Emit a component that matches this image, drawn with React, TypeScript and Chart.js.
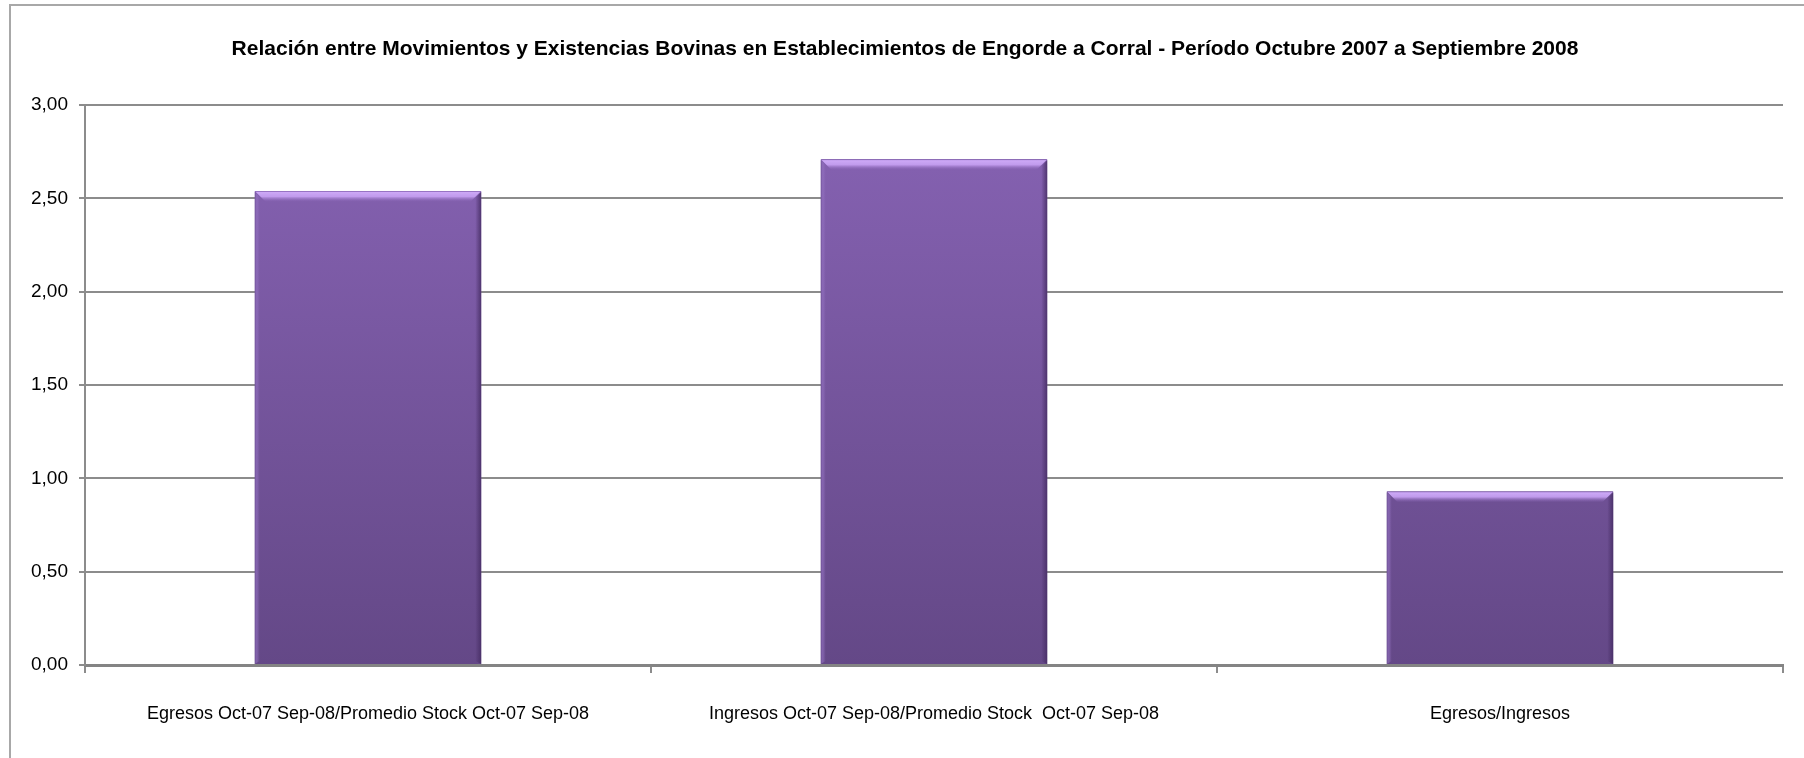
import React, { useEffect, useRef } from "react";
import { Chart, registerables } from "chart.js";

Chart.register(...registerables);

const TITLE =
  "Relación entre Movimientos y Existencias Bovinas en Establecimientos de Engorde a Corral - Período Octubre 2007 a Septiembre 2008";

const categories = [
  "Egresos Oct-07 Sep-08/Promedio Stock Oct-07 Sep-08",
  "Ingresos Oct-07 Sep-08/Promedio Stock  Oct-07 Sep-08",
  "Egresos/Ingresos",
];

const ratioValues = [2.54, 2.71, 0.93];

const yMin = 0;
const yMax = 3;
const yStep = 0.5;

const FONT = "'Liberation Sans Narrow', 'Liberation Sans', Arial, sans-serif";

const bevelPlugin = {
  id: "bevel",
  afterDatasetsDraw(chart: any) {
    const ctx = chart.ctx as CanvasRenderingContext2D;
    const meta = chart.getDatasetMeta(0);
    meta.data.forEach((bar: any) => {
      const { x, y, width, base } = bar.getProps(["x", "y", "width", "base"], true);
      const left = x - width / 2;
      const right = x + width / 2;
      const bh = 11;
      ctx.save();
      // top bevel
      const g = ctx.createLinearGradient(0, y, 0, y + bh);
      g.addColorStop(0, "rgba(122,88,168,1)");
      g.addColorStop(0.12, "rgba(204,168,246,1)");
      g.addColorStop(0.5, "rgba(196,158,240,0.95)");
      g.addColorStop(1, "rgba(134,98,178,0)");
      ctx.fillStyle = g;
      ctx.beginPath();
      ctx.moveTo(left, y);
      ctx.lineTo(right, y);
      ctx.lineTo(right - bh, y + bh);
      ctx.lineTo(left + bh, y + bh);
      ctx.closePath();
      ctx.fill();
      // left bevel
      const gl = ctx.createLinearGradient(left, 0, left + 5, 0);
      gl.addColorStop(0, "rgba(110,80,150,0.9)");
      gl.addColorStop(0.4, "rgba(150,116,195,0.6)");
      gl.addColorStop(1, "rgba(150,116,195,0)");
      ctx.fillStyle = gl;
      ctx.beginPath();
      ctx.moveTo(left, y + 1);
      ctx.lineTo(left + 5, y + 6);
      ctx.lineTo(left + 5, base - 3);
      ctx.lineTo(left, base);
      ctx.closePath();
      ctx.fill();
      // right bevel
      const gr = ctx.createLinearGradient(right - 6, 0, right, 0);
      gr.addColorStop(0, "rgba(70,45,100,0)");
      gr.addColorStop(1, "rgba(70,45,100,0.85)");
      ctx.fillStyle = gr;
      ctx.beginPath();
      ctx.moveTo(right, y + 1);
      ctx.lineTo(right - 6, y + 7);
      ctx.lineTo(right - 6, base - 3);
      ctx.lineTo(right, base);
      ctx.closePath();
      ctx.fill();
      ctx.restore();
    });
  },
};

export default function App() {
  const ref = useRef<HTMLCanvasElement | null>(null);

  useEffect(() => {
    const canvas = ref.current;
    if (!canvas) return;
    const chart = new Chart(canvas, {
      type: "bar",
      data: {
        labels: categories,
        datasets: [
          {
            label: "Relación",
            data: ratioValues,
            backgroundColor: (c: any) => {
              const area = c.chart.chartArea;
              if (!area) return "#7a58a6";
              const g = c.chart.ctx.createLinearGradient(0, area.top, 0, area.bottom);
              g.addColorStop(0, "#8763b4");
              g.addColorStop(1, "#644887");
              return g;
            },
            borderWidth: 0,
            barPercentage: 0.4,
            categoryPercentage: 1,
          },
        ],
      },
      options: {
        responsive: false,
        animation: false,
        devicePixelRatio: 1,
        layout: { padding: { left: 27, right: 21, top: 0, bottom: 0 } },
        plugins: {
          legend: { display: false },
          tooltip: { enabled: false },
          title: {
            display: true,
            text: TITLE,
            color: "#000",
            font: { family: FONT, size: 21, weight: "bold", lineHeight: 1.2 },
            padding: { top: 37, bottom: 43 },
          },
        },
        scales: {
          x: {
            offset: true,
            grid: {
              offset: true,
              drawOnChartArea: false,
              drawTicks: true,
              tickLength: 8,
              color: "#8c8c8c",
              lineWidth: 2,
            },
            border: { display: true, color: "#848484", width: 3 },
            ticks: {
              color: "#000",
              font: { family: FONT, size: 18 },
              padding: 30,
              maxRotation: 0,
              autoSkip: false,
            },
            afterFit: (s: any) => {
              s.height = 93;
            },
          },
          y: {
            min: yMin,
            max: yMax,
            grid: {
              color: "#8c8c8c",
              lineWidth: 2,
              drawTicks: true,
              tickLength: 6,
            },
            border: { display: true, color: "#8c8c8c", width: 2 },
            ticks: {
              stepSize: yStep,
              color: "#000",
              font: { family: FONT, size: 19 },
              padding: 11,
              callback: (v: any) => Number(v).toFixed(2).replace(".", ","),
            },
            afterFit: (s: any) => {
              s.width = 58;
            },
          },
        },
      },
      plugins: [bevelPlugin],
    });
    return () => chart.destroy();
  }, []);

  return (
    <div style={{ position: "absolute", left: 0, top: 0, width: 1804, height: 758, overflow: "hidden", background: "#fff" }}>
      <div
        style={{
          position: "absolute",
          left: 9,
          top: 4,
          width: 1900,
          height: 800,
          border: "2px solid #a8a8a8",
          boxSizing: "border-box",
        }}
      />
      <canvas ref={ref} width={1804} height={758} style={{ position: "absolute", left: 0, top: 0 }} />
    </div>
  );
}
